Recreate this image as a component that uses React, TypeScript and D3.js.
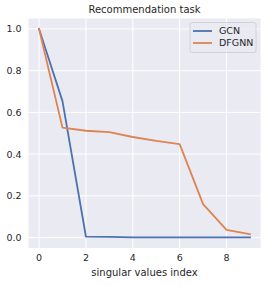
import React from "react";
import * as d3 from "d3";

const indices = [0, 1, 2, 3, 4, 5, 6, 7, 8, 9];
const gcnValues = [1.0, 0.654, 0.005, 0.003, 0.001, 0.001, 0.001, 0.001, 0.001, 0.001];
const dfgnnValues = [1.0, 0.527, 0.512, 0.505, 0.482, 0.463, 0.448, 0.16, 0.037, 0.016];
const xTicks = [0, 2, 4, 6, 8];
const yTicks = [0, 0.2, 0.4, 0.6, 0.8, 1.0];
const seriesNames = ["GCN", "DFGNN"];
const seriesColors = ["#4c72b0", "#dd8452"];

export default function App() {
  const W = 266, H = 285;
  const left = 28.5, right = 260.5, top = 18.5, bottom = 248;
  const font = "DejaVu Sans, sans-serif";

  const x = d3.scaleLinear().domain([-0.45, 9.45]).range([left, right]);
  const y = d3.scaleLinear().domain([-0.05, 1.05]).range([bottom, top]);

  const line = d3.line<number>()
    .x((_, i) => x(indices[i]))
    .y((d) => y(d));

  const series = [gcnValues, dfgnnValues];

  return (
    <svg width={W} height={H} style={{ position: "absolute", left: 0, top: 0 }}>
      <rect x={0} y={0} width={W} height={H} fill="#fff" />
      <rect x={left} y={top} width={right - left} height={bottom - top} fill="#eaeaf2" />
      {xTicks.map((t) => (
        <line key={"gx" + t} x1={x(t)} x2={x(t)} y1={top} y2={bottom} stroke="#fff" strokeWidth={1} />
      ))}
      {yTicks.map((t) => (
        <line key={"gy" + t} x1={left} x2={right} y1={y(t)} y2={y(t)} stroke="#fff" strokeWidth={1} />
      ))}
      {series.map((s, i) => (
        <path key={i} d={line(s) || ""} fill="none" stroke={seriesColors[i]} strokeWidth={1.8} strokeLinejoin="round" strokeLinecap="square" />
      ))}
      {xTicks.map((t) => (
        <text key={"tx" + t} x={x(t)} y={bottom + 13} textAnchor="middle" fontFamily={font} fontSize={9.5} fill="#262626">
          {t}
        </text>
      ))}
      {yTicks.map((t) => (
        <text key={"ty" + t} x={left - 7} y={y(t) + 3.4} textAnchor="end" fontFamily={font} fontSize={9.5} fill="#262626">
          {t.toFixed(1)}
        </text>
      ))}
      <text x={(left + right) / 2} y={13} textAnchor="middle" fontFamily={font} fontSize={10} fill="#262626">
        Recommendation task
      </text>
      <text x={(left + right) / 2} y={276} textAnchor="middle" fontFamily={font} fontSize={10} fill="#262626">
        singular values index
      </text>
      <g>
        <rect x={190} y={22.5} width={66} height={30} rx={2} fill="#eaeaf2" fillOpacity={0.8} stroke="#ccc" strokeWidth={0.8} />
        {seriesNames.map((n, i) => (
          <g key={n}>
            <line x1={193} x2={212} y1={31 + i * 12} y2={31 + i * 12} stroke={seriesColors[i]} strokeWidth={1.8} />
            <text x={219} y={34.3 + i * 12} fontFamily={font} fontSize={9.5} fill="#262626">
              {n}
            </text>
          </g>
        ))}
      </g>
    </svg>
  );
}
